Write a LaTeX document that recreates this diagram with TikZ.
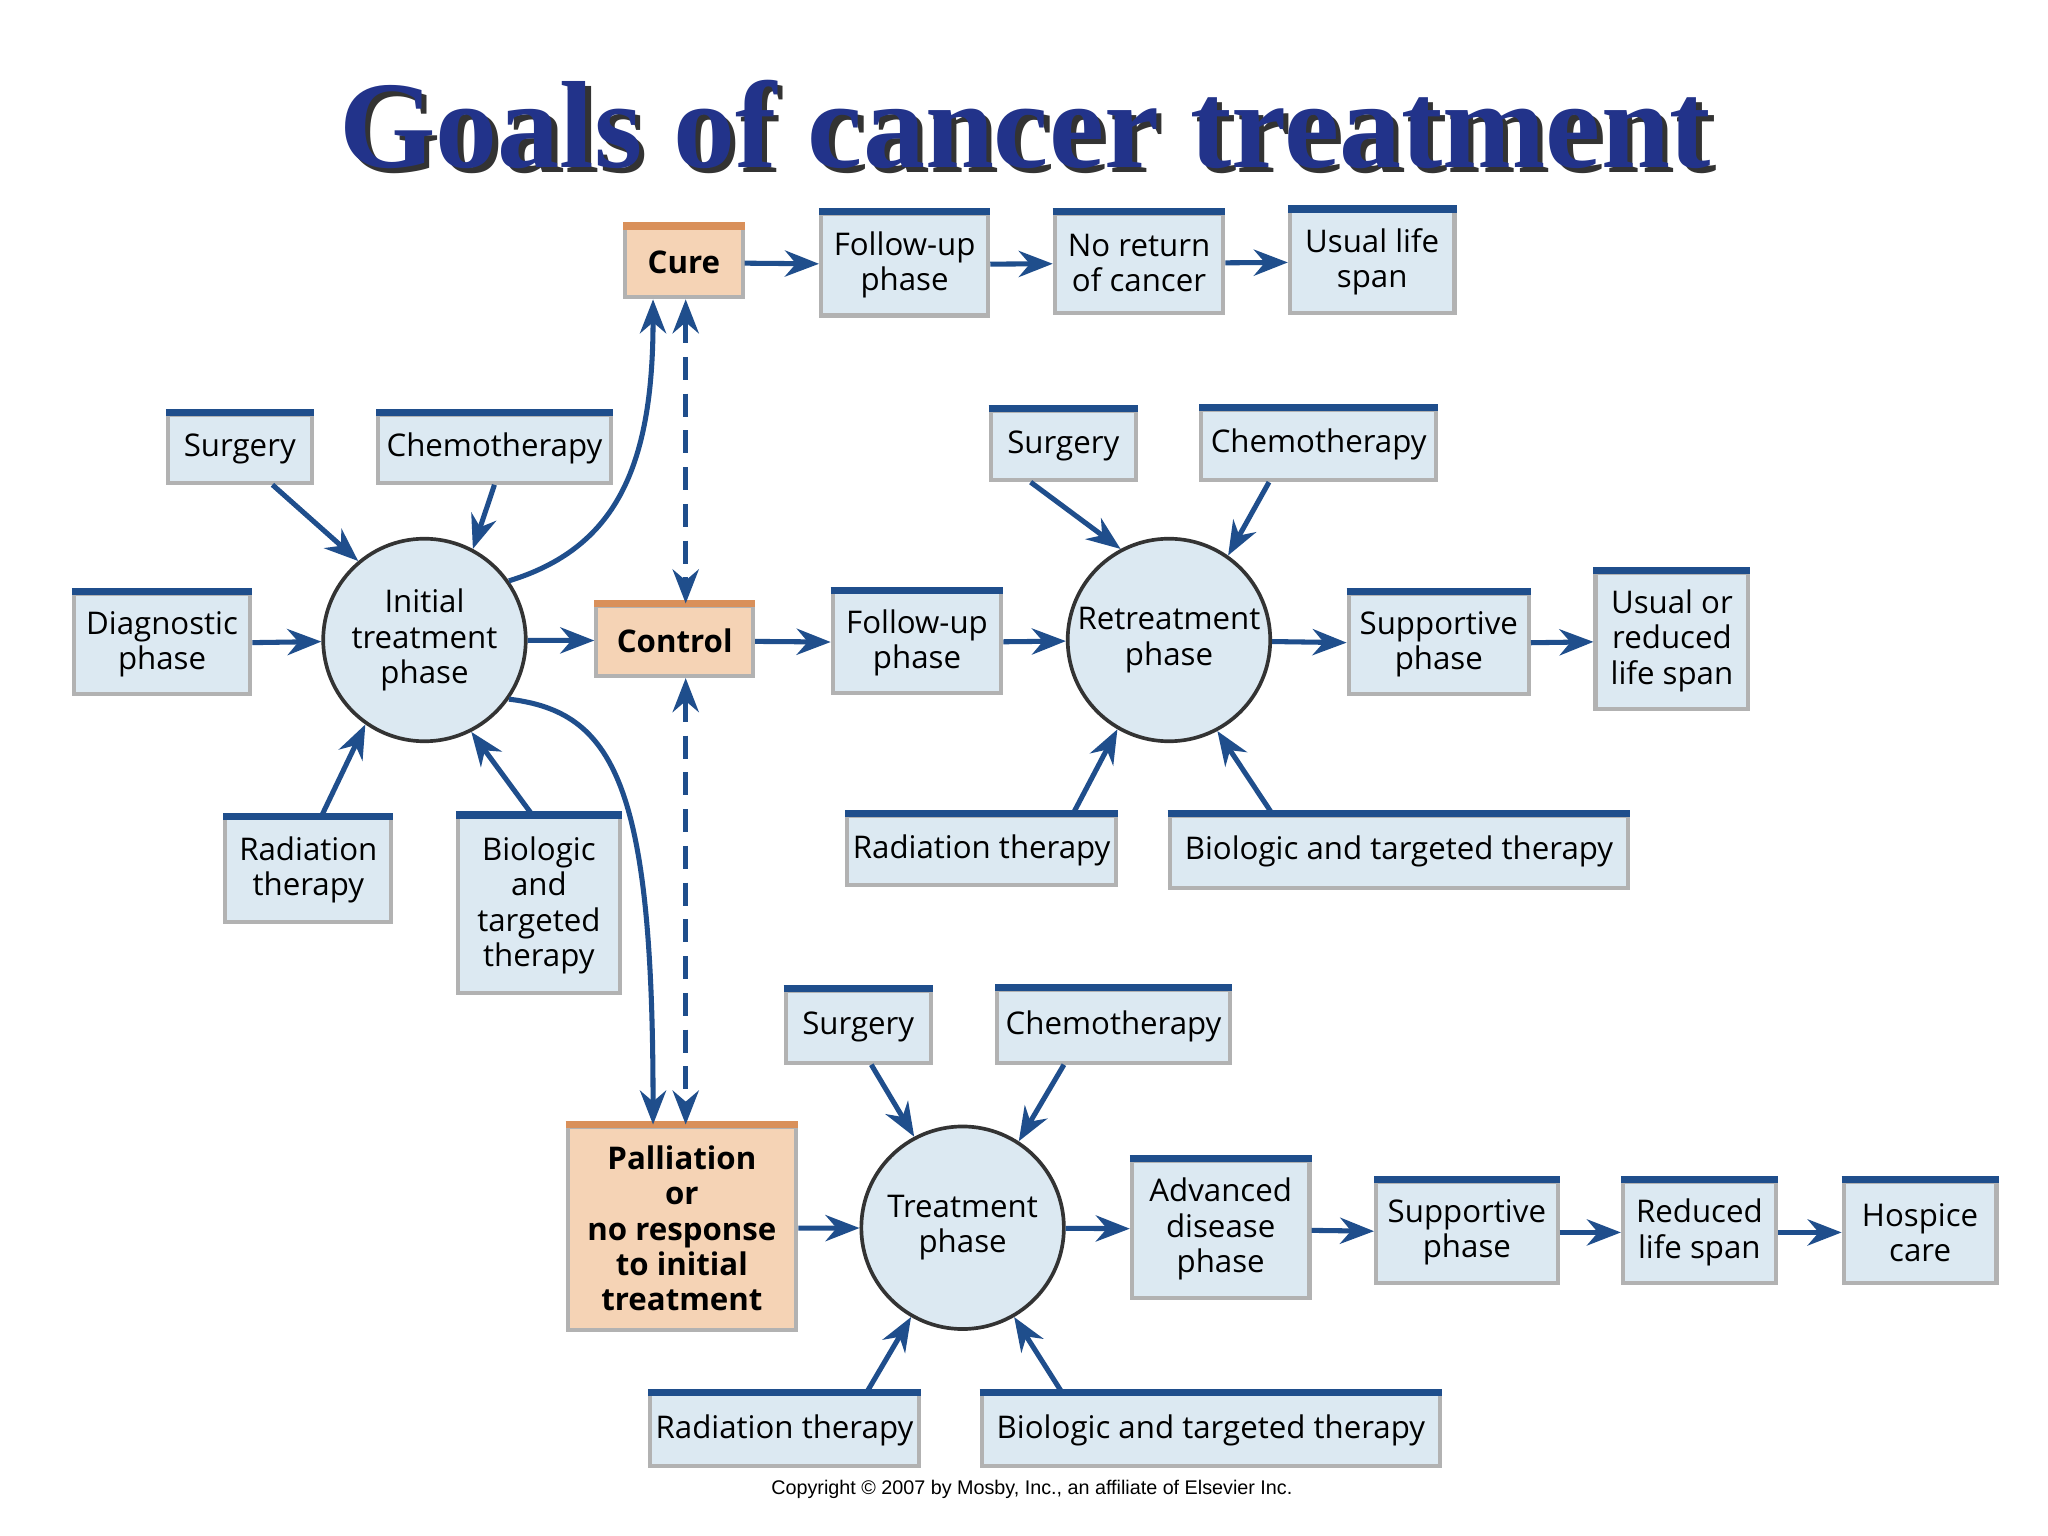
\documentclass[tikz,border=0pt]{standalone}
\usepackage{fontspec}
\setmainfont{Open Sans}
\newfontfamily\titlefont{Liberation Serif}
\newfontfamily\cpfont{Liberation Sans}
\usetikzlibrary{arrows.meta}
\definecolor{navy}{HTML}{1F4E8C}
\definecolor{boxfill}{HTML}{DCE9F2}
\definecolor{orfill}{HTML}{F5D3B5}
\definecolor{orline}{HTML}{D9905A}
\definecolor{ttl}{HTML}{22338A}
\tikzset{
  box/.style={draw=gray!60, line width=0.9pt, fill=boxfill, inner sep=0pt, align=center,
    font=\fontsize{6.8pt}{7.7pt}\selectfont, anchor=north west},
  obox/.style={box, fill=orfill, font=\bfseries\fontsize{6.8pt}{7.7pt}\selectfont},
  topline/.style={draw=navy, line width=1.6pt},
  otopline/.style={draw=orline, line width=1.6pt},
  circ/.style={circle, draw=black!80, line width=0.8pt, fill=boxfill, inner sep=0pt,
    minimum size=1.55cm, align=center, font=\fontsize{6.8pt}{7.7pt}\selectfont},
  arr/.style={draw=navy, line width=1.1pt, -{Stealth[length=2.6mm,width=2mm]}},
  darr/.style={arr, {Stealth[length=2.6mm,width=2mm]}-{Stealth[length=2.6mm,width=2mm]}, dashed, dash pattern=on 5pt off 3pt}
}
\newcommand\bx[6]{\node[box, minimum width={(#4-#2)*0.01cm}, minimum height={(#5-#3)*0.01cm}] (#1) at (#2,#3) {#6};
  \draw[topline] (#1.north west)--(#1.north east);}
\newcommand\ob[6]{\node[obox, minimum width={(#4-#2)*0.01cm}, minimum height={(#5-#3)*0.01cm}] (#1) at (#2,#3) {#6};
  \draw[otopline] (#1.north west)--(#1.north east);}
\begin{document}
\begin{tikzpicture}[x=0.01cm,y=-0.01cm]
\useasboundingbox[fill=white] (0,0) rectangle (1568,1176);
\node[font=\titlefont\bfseries\fontsize{27pt}{30pt}\selectfont, text=black!80] at (789,99) {Goals of cancer treatment};
\node[font=\titlefont\bfseries\fontsize{27pt}{30pt}\selectfont, text=ttl] (title) at (785,95) {Goals of cancer treatment};
% top row
\ob{cure}{477}{173}{567}{226}{Cure}
\bx{fu1}{627}{162}{755}{240}{Follow-up\\phase}
\bx{noret}{806}{162}{935}{238}{No return\\of cancer}
\bx{usual}{986}{160}{1112}{238}{Usual life\\span}
% initial
\bx{surg1}{127}{316}{237}{368}{Surgery}
\bx{chemo1}{288}{316}{466}{368}{Chemotherapy}
\bx{diag}{55}{453}{190}{530}{Diagnostic\\phase}
\node[circ] (init) at (325,490) {Initial\\treatment\\phase};
\bx{rad1}{171}{625}{298}{704}{Radiation\\therapy}
\bx{bio1}{349}{624}{473}{759}{Biologic\\and\\targeted\\therapy}
% control row
\ob{control}{455}{462}{575}{516}{Control}
\bx{fu2}{636}{452}{765}{529}{Follow-up\\phase}
\node[circ] (ret) at (895,490) {Retreatment\\phase};
\bx{surg2}{757}{313}{868}{366}{Surgery}
\bx{chemo2}{918}{312}{1098}{366}{Chemotherapy}
\bx{sup2}{1031}{453}{1169}{530}{Supportive\\phase}
\bx{uor}{1220}{437}{1337}{541}{Usual or\\reduced\\life span}
\bx{rad2}{647}{623}{853}{676}{Radiation therapy}
\bx{bio2}{894}{623}{1245}{678}{Biologic and targeted therapy}
% palliation row
\ob{pall}{433}{861}{608}{1017}{Palliation\\or\\no response\\to initial\\treatment}
\node[circ] (treat) at (737,940) {Treatment\\phase};
\bx{surg3}{600}{757}{711}{812}{Surgery}
\bx{chemo3}{762}{756}{940}{812}{Chemotherapy}
\bx{adv}{865}{887}{1001}{992}{Advanced\\disease\\phase}
\bx{sup3}{1052}{903}{1191}{981}{Supportive\\phase}
\bx{red}{1241}{903}{1358}{981}{Reduced\\life span}
\bx{hosp}{1410}{903}{1527}{981}{Hospice\\care}
\bx{rad3}{496}{1066}{702}{1121}{Radiation therapy}
\bx{bio3}{750}{1066}{1101}{1121}{Biologic and targeted therapy}
\node[font=\cpfont\fontsize{4.3pt}{5pt}\selectfont] (copy) at (790,1140) {Copyright © 2007 by Mosby, Inc., an affiliate of Elsevier Inc.};
% arrows
\draw[arr] (cure) -- (fu1); \draw[arr] (fu1) -- (noret); \draw[arr] (noret) -- (usual);
\draw[arr] (surg1.south)++(25,0) -- (init.130);
\draw[arr] (chemo1.south) -- (init.62);
\draw[arr] (diag) -- (init);
\draw[arr] (rad1.north) ++(10,0) -- (init.235);
\draw[arr] (bio1.north) ++(-5,0) -- (init.-63);
\draw[arr] (init) -- (control);
\draw[arr] (init.35) .. controls (470,420) and (500,360) .. (cure.south west -| 500,0);
\draw[arr] (init.-35) .. controls (470,545) and (500,600) .. (pall.north west -| 500,0);
\draw[darr] (cure.south -| 525,0) -- (control.north -| 525,0);
\draw[darr] (control.south -| 525,0) -- (pall.north -| 525,0);
\draw[arr] (control) -- (fu2); \draw[arr] (fu2) -- (ret); \draw[arr] (ret) -- (sup2); \draw[arr] (sup2) -- (uor);
\draw[arr] (surg2.south) ++(-25,0) -- (ret.118);
\draw[arr] (chemo2.south) ++(-38,0) -- (ret.55);
\draw[arr] (rad2.north) ++(70,0) -- (ret.240);
\draw[arr] (bio2.north west) ++(80,0) -- (ret.-62);
\draw[arr] (pall) -- (treat); \draw[arr] (treat) -- (adv); \draw[arr] (adv) -- (sup3); \draw[arr] (sup3) -- (red); \draw[arr] (red) -- (hosp);
\draw[arr] (surg3.south) ++(10,0) -- (treat.118);
\draw[arr] (chemo3.south) ++(-38,0) -- (treat.57);
\draw[arr] (rad3.north) ++(63,0) -- (treat.240);
\draw[arr] (bio3.north west) ++(63,0) -- (treat.-60);
\end{tikzpicture}
\end{document}
